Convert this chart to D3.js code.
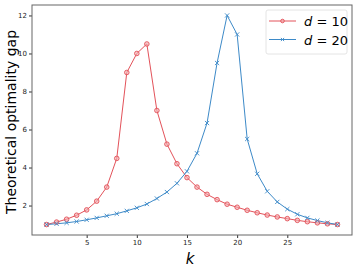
<!DOCTYPE html>
<html>
<head>
<meta charset="utf-8">
<script src="https://cdn.jsdelivr.net/npm/d3@7"></script>
<style>
body { margin: 0; background: #fff; }
text { font-family: "DejaVu Sans", sans-serif; }
</style>
</head>
<body>
<script>
// k values and the two series
var kValues = d3.range(1, 31);
var gapD10 = [1.0, 1.13, 1.28, 1.49, 1.77, 2.23, 2.97, 4.48, 9.0, 10.0, 10.5, 7.0, 5.23, 4.2, 3.47,
              2.97, 2.59, 2.31, 2.07, 1.91, 1.75, 1.62, 1.5, 1.4, 1.31, 1.22, 1.15, 1.09, 1.04, 1.0];
var gapD20 = [1.0, 1.04, 1.09, 1.16, 1.25, 1.35, 1.46, 1.57, 1.72, 1.88, 2.08, 2.37, 2.71, 3.17, 3.8,
              4.75, 6.34, 9.5, 12.0, 11.0, 5.5, 3.67, 2.75, 2.19, 1.81, 1.54, 1.35, 1.21, 1.09, 1.0];
var xTicks = [5, 10, 15, 20, 25];
var yTicks = [2, 4, 6, 8, 10, 12];
var seriesNames = ["10", "20"];

var width = 356, height = 270;
var margin = {left: 32, top: 5, right: 4, bottom: 35};

var svg = d3.select("body").append("svg")
    .attr("width", width)
    .attr("height", height);

var x = d3.scaleLinear()
    .domain([-0.45, 31.45])
    .range([margin.left, width - margin.right]);
var y = d3.scaleLinear()
    .domain([0.45, 12.55])
    .range([height - margin.bottom, margin.top]);

// axes
var xAxis = svg.append("g")
    .attr("transform", "translate(0," + (height - margin.bottom) + ")")
    .call(d3.axisBottom(x).tickValues(xTicks).tickSize(3).tickPadding(2));
var yAxis = svg.append("g")
    .attr("transform", "translate(" + margin.left + ",0)")
    .call(d3.axisLeft(y).tickValues(yTicks).tickSize(3).tickPadding(2));
[xAxis, yAxis].forEach(function(a){
    a.select(".domain").remove();
    a.selectAll("text").style("font-size", "7px").attr("fill", "#222");
    a.selectAll("line").attr("stroke", "#333");
});

// frame
svg.append("rect")
    .attr("x", x.range()[0]).attr("y", y.range()[1])
    .attr("width", x.range()[1] - x.range()[0])
    .attr("height", y.range()[0] - y.range()[1])
    .attr("fill", "none").attr("stroke", "#666").attr("stroke-width", 1);

var line = d3.line()
    .x(function(d, i){ return x(kValues[i]); })
    .y(function(d){ return y(d); });

var red = "#e3525a", blue = "#3d8ac8";

svg.append("path").datum(gapD10)
    .attr("d", line).attr("fill", "none").attr("stroke", red).attr("stroke-width", 1);
svg.append("path").datum(gapD20)
    .attr("d", line).attr("fill", "none").attr("stroke", blue).attr("stroke-width", 1);

// red circle markers
svg.selectAll(".m10").data(gapD10).enter().append("circle")
    .attr("class", "m10")
    .attr("cx", function(d, i){ return x(kValues[i]); })
    .attr("cy", function(d){ return y(d); })
    .attr("r", 2.3)
    .attr("fill", "#f2a8ab").attr("fill-opacity", 0.6)
    .attr("stroke", red).attr("stroke-width", 0.9);

// blue x markers
function xMark(sel, s){
    sel.append("path")
        .attr("d", "M" + (-s) + "," + (-s) + "L" + s + "," + s + "M" + (-s) + "," + s + "L" + s + "," + (-s))
        .attr("stroke", blue).attr("stroke-width", 0.9);
}
svg.selectAll(".m20").data(gapD20).enter().append("g")
    .attr("class", "m20")
    .attr("transform", function(d, i){ return "translate(" + x(kValues[i]) + "," + y(d) + ")"; })
    .call(xMark, 2.1);

// labels
svg.append("text")
    .attr("transform", "translate(16," + ((margin.top + height - margin.bottom) / 2 + 2) + ") rotate(-90)")
    .attr("text-anchor", "middle")
    .style("font-size", "14px")
    .text("Theoretical optimality gap");
svg.append("text")
    .attr("x", (x.range()[0] + x.range()[1]) / 2 - 2)
    .attr("y", 264)
    .attr("text-anchor", "middle")
    .style("font-size", "15px")
    .style("font-style", "italic")
    .text("k");

// legend
var legend = svg.append("g").attr("transform", "translate(266,10)");
legend.append("rect")
    .attr("width", 81).attr("height", 44).attr("rx", 2)
    .attr("fill", "#fff").attr("fill-opacity", 0.8)
    .attr("stroke", "#ddd").attr("stroke-width", 0.8);
var entries = legend.selectAll(".entry").data(seriesNames).enter().append("g")
    .attr("class", "entry")
    .attr("transform", function(d, i){ return "translate(0," + (11 + i * 18.5) + ")"; });
entries.append("line")
    .attr("x1", 3).attr("x2", 30)
    .attr("stroke", function(d, i){ return i === 0 ? red : blue; })
    .attr("stroke-width", 1);
entries.filter(function(d, i){ return i === 0; }).append("circle")
    .attr("cx", 16.5).attr("r", 1.8)
    .attr("fill", "#f2a8ab").attr("stroke", red).attr("stroke-width", 0.9);
entries.filter(function(d, i){ return i === 1; }).append("g")
    .attr("transform", "translate(16.5,0)")
    .call(xMark, 1.6);
var lt = entries.append("text")
    .attr("x", 38).attr("y", 5)
    .style("font-size", "13px");
lt.append("tspan").style("font-style", "italic").text("d");
lt.append("tspan").text(function(d){ return " = " + d; });
</script>
</body>
</html>
